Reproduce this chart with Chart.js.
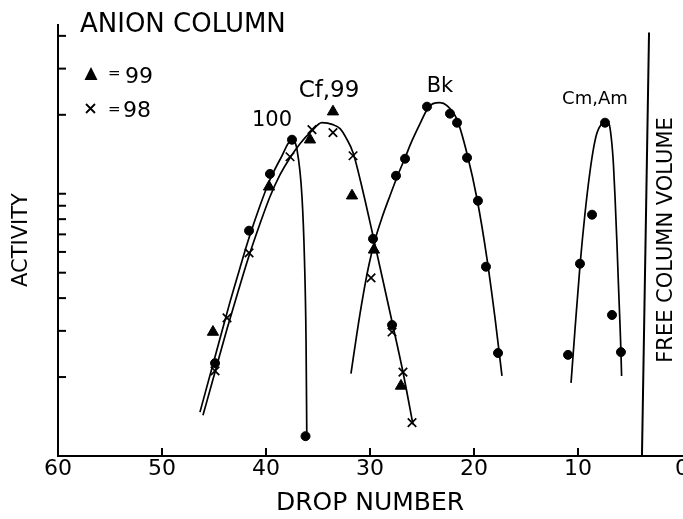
<!DOCTYPE html>
<html>
<head>
<meta charset="utf-8">
<script src="https://cdn.jsdelivr.net/npm/chart.js@4/dist/chart.umd.min.js"></script>
<style>
  html, body { margin: 0; padding: 0; background: #fff; overflow: hidden; }
  #wrap { position: relative; width: 683px; height: 519px; }
</style>
</head>
<body>
<div id="wrap"><canvas id="c"></canvas></div>
<script>
// Elution from the anion column: activity (log scale) against drop number.
const dropTicks = [60, 50, 40, 30, 20, 10, 0];
const activityTicks = [2, 3, 4, 5, 6, 7, 8, 9, 10, 20, 30, 40];

// Element 100 (dots) and its fitted curve
const e100Points = [[44.9, 2.26], [41.63, 7.23], [39.62, 11.9], [37.5, 16.07], [36.2, 1.19]];
const e100Curve = [[46.35, 1.47], [44.9, 2.39], [43.46, 3.87], [42.5, 5.22], [41.63, 6.79], [40.58, 9.0],
  [39.62, 11.31], [38.56, 13.72], [37.5, 16.07], [37.02, 14.72], [36.54, 9.74], [36.3, 5.6],
  [36.15, 2.77], [36.08, 1.235]];

// Cf (98, crosses) and Es (99, triangles) with their common curve
const cf98Points = [[44.9, 2.11], [43.75, 3.36], [41.63, 5.95], [37.69, 13.84], [35.58, 17.55], [33.56, 17.1],
  [31.63, 13.96], [29.9, 4.78], [27.88, 2.97], [26.83, 2.09], [25.96, 1.34]];
const es99Points = [[45.1, 2.97], [39.71, 10.63], [35.77, 16.07], [33.56, 20.56], [31.73, 9.83], [29.62, 6.11], [27.02, 1.85]];
const cfDots = [[27.88, 3.16]];
const cfCurve = [[46.06, 1.43], [44.9, 2.09], [43.75, 3.05], [42.69, 4.23], [41.63, 5.8], [40.58, 7.68],
  [39.62, 9.74], [38.65, 11.82], [37.69, 13.72], [36.73, 15.52], [35.67, 17.24], [34.62, 18.66],
  [33.56, 18.34], [32.88, 17.71], [32.31, 16.36], [31.63, 14.34], [30.67, 10.18], [29.71, 6.91],
  [28.75, 4.66], [27.88, 3.25], [26.83, 2.09], [25.87, 1.32]];

// Bk
const bkPoints = [[29.71, 6.73], [27.5, 11.71], [26.63, 13.6], [24.52, 21.48], [22.31, 20.2], [21.63, 18.66],
  [20.67, 13.72], [19.62, 9.4], [18.85, 5.27], [17.69, 2.47]];
const bkCurve = [[31.83, 2.06], [31.25, 2.95], [30.67, 4.08], [30.1, 5.36], [29.52, 6.67], [28.85, 8.1],
  [28.08, 9.83], [27.31, 11.82], [26.63, 13.72], [25.96, 15.93], [25.19, 18.5], [24.52, 20.92],
  [23.94, 22.06], [23.27, 22.25], [22.6, 21.67], [21.63, 19.16], [20.67, 14.21], [19.71, 9.57],
  [18.75, 5.65], [17.98, 3.36], [17.31, 2.02]];

// Cm, Am
const cmPoints = [[7.4, 18.66], [8.65, 8.32], [9.81, 5.41], [10.96, 2.43], [6.73, 3.45], [5.87, 2.49]];
const cmCurve = [[10.67, 1.9], [10.29, 3.03], [9.81, 5.31], [9.33, 8.39], [8.85, 12.13], [8.46, 15.25],
  [8.17, 17.1], [7.79, 18.34], [7.4, 18.83], [7.02, 18.5], [6.78, 16.07], [6.59, 12.9], [6.44, 9.74],
  [6.25, 6.39], [6.11, 4.49], [5.96, 3.16], [5.87, 2.49], [5.81, 2.02]];

// Free column volume marker
const freeColumn = [[3.85, 1], [3.17, 41.2]];

// Peak names, placed in data coordinates
const peakLabels = [
  { text: '100', drop: 39.42, act: 19.0, size: 21 },
  { text: 'Cf,99', drop: 33.94, act: 24.7, size: 23 },
  { text: 'Bk', drop: 23.27, act: 25.6, size: 21 },
  { text: 'Cm,Am', drop: 8.37, act: 22.9, size: 18 }
];

const ink = '#000';
const FONT = "'DejaVu Sans', sans-serif";
const xy = arr => arr.map(([x, y]) => ({ x, y }));

const curve = data => ({
  type: 'scatter', data: xy(data), showLine: true, borderColor: ink, borderWidth: 1.7,
  pointRadius: 0, cubicInterpolationMode: 'monotone', fill: false
});
const marks = (data, style, r, extra = {}) => Object.assign({
  type: 'scatter', data: xy(data), showLine: false, pointStyle: style, pointRadius: r,
  backgroundColor: ink, borderColor: ink, borderWidth: 1
}, extra);

const annotate = {
  id: 'annotate',
  afterDraw(chart) {
    const { ctx, chartArea: a, scales: { x, y } } = chart;
    ctx.save();
    ctx.strokeStyle = ink;
    ctx.fillStyle = ink;
    ctx.lineWidth = 2;
    // inward tick marks
    activityTicks.forEach(v => {
      const py = y.getPixelForValue(v);
      ctx.beginPath(); ctx.moveTo(a.left, py); ctx.lineTo(a.left + 8, py); ctx.stroke();
    });
    dropTicks.filter(d => d > 0 && d < 60).forEach(d => {
      const px = x.getPixelForValue(d);
      ctx.beginPath(); ctx.moveTo(px, a.bottom); ctx.lineTo(px, a.bottom - 8); ctx.stroke();
    });

    // peak names
    ctx.textAlign = 'center';
    ctx.textBaseline = 'middle';
    peakLabels.forEach(l => {
      ctx.font = l.size + 'px ' + FONT;
      ctx.fillText(l.text, x.getPixelForValue(l.drop), y.getPixelForValue(l.act));
    });

    // heading and axis titles
    ctx.textAlign = 'left';
    ctx.textBaseline = 'alphabetic';
    ctx.font = '26px ' + FONT;
    ctx.fillText('ANION COLUMN', 80, 32);

    ctx.textAlign = 'center';
    ctx.font = '25px ' + FONT;
    ctx.fillText('DROP NUMBER', 370, 510);

    ctx.textBaseline = 'middle';
    ctx.font = '21px ' + FONT;
    ctx.save();
    ctx.translate(22, 240); ctx.rotate(-Math.PI / 2);
    ctx.fillText('ACTIVITY', 0, 0);
    ctx.restore();
    ctx.save();
    ctx.translate(667, 240); ctx.rotate(-Math.PI / 2);
    ctx.fillText('FREE COLUMN VOLUME', 0, 0);
    ctx.restore();

    // key
    ctx.beginPath();
    ctx.moveTo(91, 67); ctx.lineTo(97.5, 80); ctx.lineTo(84.5, 80); ctx.closePath(); ctx.fill();
    ctx.lineWidth = 1.8;
    ctx.beginPath();
    ctx.moveTo(86, 104); ctx.lineTo(95, 113); ctx.moveTo(95, 104); ctx.lineTo(86, 113); ctx.stroke();
    ctx.textAlign = 'left';
    ctx.textBaseline = 'alphabetic';
    ctx.font = '15px ' + FONT;
    ctx.fillText('=', 108, 78);
    ctx.fillText('=', 108, 114);
    ctx.font = '22px ' + FONT;
    ctx.fillText('99', 125, 83);
    ctx.fillText('98', 123, 117);
    ctx.restore();
  }
};

new Chart(document.getElementById('c'), {
  data: {
    datasets: [
      curve(e100Curve),
      curve(cfCurve),
      curve(bkCurve),
      curve(cmCurve),
      Object.assign(curve(freeColumn), { cubicInterpolationMode: 'default', tension: 0, borderWidth: 2 }),
      marks(e100Points, 'circle', 4.5),
      marks(bkPoints, 'circle', 4.5),
      marks(cmPoints, 'circle', 4.5),
      marks(cfDots, 'circle', 4.5),
      marks(es99Points, 'triangle', 6.5),
      marks(cf98Points, 'crossRot', 6, { borderWidth: 1.7 })
    ]
  },
  options: {
    responsive: true,
    maintainAspectRatio: false,
    animation: false,
    events: [],
    layout: { autoPadding: false, padding: { top: 25, right: 1, left: 0, bottom: 0 } },
    plugins: { legend: { display: false }, tooltip: { enabled: false }, title: { display: false } },
    scales: {
      x: {
        type: 'linear', reverse: true, min: 0, max: 60,
        afterBuildTicks: s => { s.ticks = dropTicks.map(v => ({ value: v })); },
        afterFit: s => { s.height = 63; s.paddingLeft = 0; s.paddingRight = 0; },
        grid: { display: false, drawTicks: false },
        border: { display: true, color: ink, width: 2 },
        ticks: { color: ink, padding: 2, maxRotation: 0, autoSkip: false,
          font: { family: FONT, size: 22, lineHeight: 1 }, callback: v => String(v) }
      },
      y: {
        type: 'logarithmic', min: 1, max: 44,
        afterBuildTicks: s => { s.ticks = activityTicks.map(v => ({ value: v })); },
        afterFit: s => { s.width = 58; s.paddingTop = 0; s.paddingBottom = 0; },
        grid: { display: false, drawTicks: false },
        border: { display: true, color: ink, width: 2 },
        ticks: { display: false }
      }
    }
  },
  plugins: [annotate]
});
</script>
</body>
</html>
